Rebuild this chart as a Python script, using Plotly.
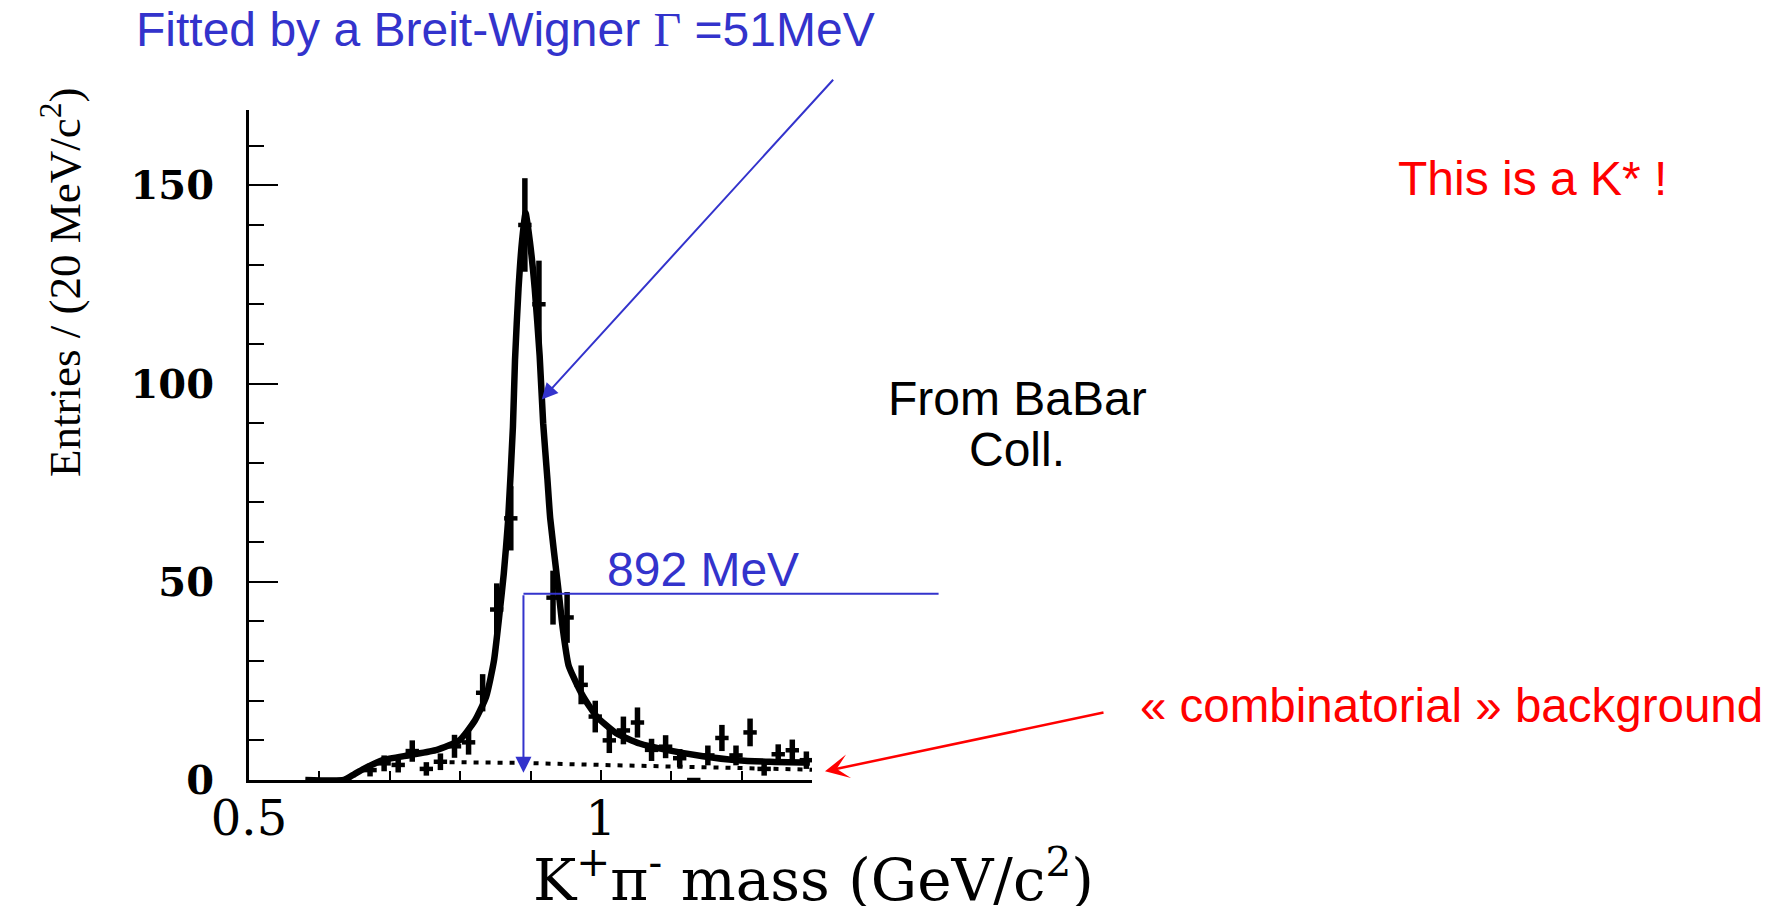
import plotly.graph_objects as go

# ---------------- data ----------------
mass = [0.672, 0.692, 0.712, 0.732, 0.752, 0.772, 0.792, 0.812, 0.832, 0.852,
        0.872, 0.892, 0.912, 0.932, 0.952, 0.972, 0.992, 1.012, 1.032, 1.052,
        1.072, 1.092, 1.112, 1.132, 1.152, 1.172, 1.192, 1.212, 1.232, 1.252,
        1.272, 1.292]
entries = [2.5, 4.2, 3.8, 7.3, 2.8, 4.6, 8.5, 9.5, 22, 43,
           66, 140, 120, 46, 41, 24, 16, 10, 12.5, 14.5,
           7.6, 8.4, 5.5, 0, 6.2, 10.6, 6.2, 12, 2.8, 6.5,
           7.5, 5]
errors = [1.6, 2.0, 1.9, 2.7, 1.7, 2.1, 2.9, 3.1, 4.7, 6.6,
          8.1, 11.8, 11.0, 6.8, 6.4, 4.9, 4.0, 3.2, 3.5, 3.8,
          2.8, 2.9, 2.3, 0, 2.5, 3.3, 2.5, 3.5, 1.7, 2.5,
          2.7, 2.2]

fit_mass = [0.58, 0.635, 0.650, 0.663, 0.690, 0.729, 0.767, 0.799, 0.821, 0.837,
            0.848, 0.856, 0.862, 0.868, 0.875, 0.878, 0.883, 0.888, 0.893, 0.899,
            0.906, 0.913, 0.918, 0.924, 0.928, 0.939, 0.946, 0.954, 0.961, 0.975,
            0.994, 1.022, 1.055, 1.093, 1.145, 1.193, 1.240, 1.297]
fit_entries = [0, 0, 1.5, 2.8, 5.0, 6.3, 7.6, 10, 15, 21,
               30, 42, 52, 65, 89, 106, 124, 136, 143, 136,
               124, 107, 90, 76, 66, 49, 38, 29, 26, 21,
               16, 11.8, 9.2, 7.6, 6.0, 5.0, 4.6, 4.4]

bg_mass = [0.785, 0.89, 1.00, 1.10, 1.20, 1.30]
bg_entries = [4.5, 4.3, 3.8, 3.4, 2.9, 2.6]

x_tick_vals = [0.5, 1]
x_tick_text = ["0.5", "1"]
y_tick_vals = [0, 50, 100, 150]
y_tick_text = ["0", "50", "100", "150"]

peak_mass = 0.89
peak_line_level = 47

BLUE = "#3333CC"
RED = "#FF0000"

fig = go.Figure()

fig.add_trace(go.Scatter(
    x=fit_mass, y=fit_entries, mode="lines",
    line=dict(color="black", width=6.5, shape="spline", smoothing=0.5),
    hoverinfo="skip", showlegend=False))

fig.add_trace(go.Scatter(
    x=bg_mass, y=bg_entries, mode="lines",
    line=dict(color="black", width=4, dash="5px,7px"),
    hoverinfo="skip", showlegend=False))

fig.add_trace(go.Scatter(
    x=mass, y=entries, mode="markers",
    marker=dict(size=1, color="black"),
    error_y=dict(type="data", array=errors, visible=True, color="black",
                 thickness=5.5, width=0),
    error_x=dict(type="constant", value=0.0095, visible=True, color="black",
                 thickness=4.5, width=0),
    showlegend=False))

W, H = 1777, 906
x0, x1 = 249 / W, 812 / W
y0, y1 = 1 - 780 / H, 1 - 110 / H

fig.update_layout(
    width=W, height=H,
    margin=dict(l=0, r=0, t=0, b=0),
    paper_bgcolor="white", plot_bgcolor="white",
    showlegend=False,
    xaxis=dict(
        domain=[x0, x1], range=[0.5, 1.3], automargin=False,
        showgrid=False, zeroline=False,
        showline=True, linecolor="black", linewidth=3,
        tickmode="array", tickvals=x_tick_vals, ticktext=x_tick_text,
        ticks="inside", ticklen=10, tickwidth=1.5, tickcolor="black",
        minor=dict(dtick=0.1, tick0=0.5, ticks="inside", ticklen=9,
                   tickwidth=1.5, tickcolor="black", showgrid=False),
        tickfont=dict(family="DejaVu Serif", size=48, color="black"),
        ticklabelstandoff=-6,
    ),
    yaxis=dict(
        domain=[y0, y1], range=[0, 169], automargin=False,
        showgrid=False, zeroline=False,
        showline=True, linecolor="black", linewidth=3,
        tickmode="array", tickvals=y_tick_vals, ticktext=y_tick_text,
        ticks="inside", ticklen=29, tickwidth=1.5, tickcolor="black",
        minor=dict(dtick=10, tick0=0, ticks="inside", ticklen=15,
                   tickwidth=1.5, tickcolor="black", showgrid=False),
        tickfont=dict(family="DejaVu Serif", size=40, color="black",
                      weight="bold"),
        ticklabelstandoff=24,
    ),
)

anns = []
# axis titles
anns.append(dict(
    text="K<sup>+</sup>\u03c0<sup>-</sup> mass (GeV/c<sup>2</sup>)",
    xref="paper", yref="paper", x=813 / W, y=0, yshift=-10,
    xanchor="center", yanchor="bottom", showarrow=False,
    font=dict(family="DejaVu Serif", size=58, color="black")))
anns.append(dict(
    text="Entries / (20 MeV/c<sup>2</sup>)",
    xref="paper", yref="paper", x=62 / W, y=1 - 283 / H, textangle=-90,
    xanchor="center", yanchor="middle", showarrow=False,
    font=dict(family="Liberation Serif", size=45, color="black")))

# slide texts
anns.append(dict(
    text="Fitted by a Breit-Wigner <span style='font-family:Liberation Serif'>\u0393</span> =51MeV",
    xref="paper", yref="paper", x=506 / W, y=1 - 29 / H,
    xanchor="center", yanchor="middle", showarrow=False,
    font=dict(family="Liberation Sans", size=48, color=BLUE)))
anns.append(dict(
    text="This is a K* !",
    xref="paper", yref="paper", x=1532 / W, y=1 - 178 / H,
    xanchor="center", yanchor="middle", showarrow=False,
    font=dict(family="Liberation Sans", size=48, color=RED)))
anns.append(dict(
    text="From BaBar",
    xref="paper", yref="paper", x=1017 / W, y=1 - 398 / H,
    xanchor="center", yanchor="middle", showarrow=False,
    font=dict(family="Liberation Sans", size=48, color="black")))
anns.append(dict(
    text="Coll.",
    xref="paper", yref="paper", x=1017 / W, y=1 - 449 / H,
    xanchor="center", yanchor="middle", showarrow=False,
    font=dict(family="Liberation Sans", size=48, color="black")))
anns.append(dict(
    text="\u00ab combinatorial \u00bb background",
    xref="paper", yref="paper", x=1451 / W, y=1 - 705 / H,
    xanchor="center", yanchor="middle", showarrow=False,
    font=dict(family="Liberation Sans", size=47.5, color=RED)))
anns.append(dict(
    text="892 MeV",
    xref="x", yref="y", x=1.145, y=53,
    xanchor="center", yanchor="middle", showarrow=False,
    font=dict(family="Liberation Sans", size=48, color=BLUE)))

# arrows
anns.append(dict(  # Breit-Wigner arrow
    text="", xref="x", yref="y", axref="x", ayref="y",
    x=0.916, y=96, ax=1.332, ay=177,
    showarrow=True, arrowhead=2, arrowsize=1.6, arrowwidth=2,
    arrowcolor=BLUE))
anns.append(dict(  # 892 MeV horizontal line
    text="", xref="x", yref="y", axref="x", ayref="y",
    x=peak_mass, y=peak_line_level, ax=1.482, ay=peak_line_level,
    showarrow=True, arrowhead=0, arrowwidth=2, arrowcolor=BLUE))
anns.append(dict(  # 892 MeV vertical arrow
    text="", xref="x", yref="y", axref="x", ayref="y",
    x=peak_mass, y=1.8, ax=peak_mass, ay=peak_line_level,
    showarrow=True, arrowhead=2, arrowsize=1.6, arrowwidth=2,
    arrowcolor=BLUE))
anns.append(dict(  # background arrow (head just right of the axis end)
    text="", xref="paper", yref="y", axref="pixel", ayref="pixel",
    x=825 / W, y=2.2, ax=280, ay=-59,
    showarrow=True, arrowhead=3, arrowsize=1.6, arrowwidth=2.5,
    arrowcolor=RED))

fig.update_layout(annotations=anns)

fig.write_html("out.html")
